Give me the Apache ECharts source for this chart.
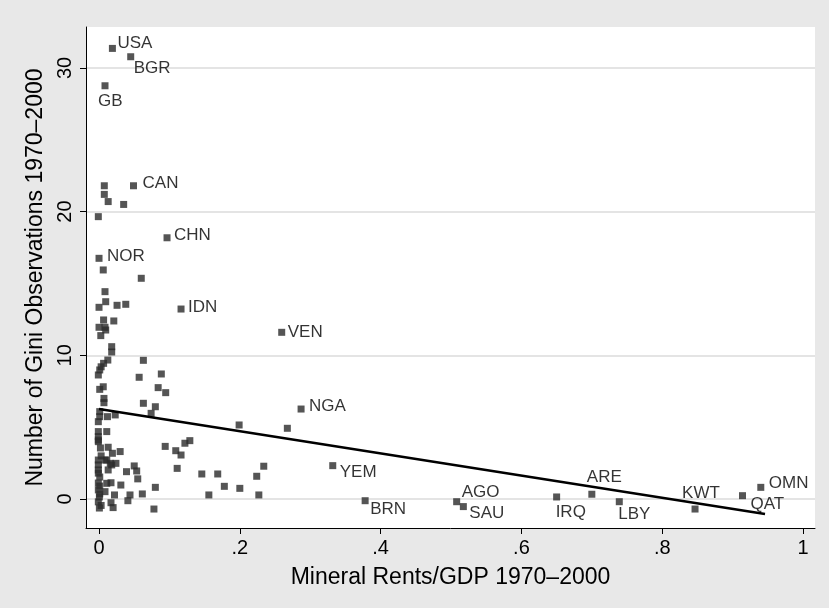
<!DOCTYPE html>
<html>
<head>
<meta charset="utf-8">
<script src="https://cdn.jsdelivr.net/npm/echarts@6/dist/echarts.min.js"></script>
<style>
html,body{margin:0;padding:0;background:#e8e8e8;}
#chart{width:829px;height:608px;}
</style>
</head>
<body>
<div id="chart"></div>
<script>
// Labeled countries
const labeledNames = ['USA','BGR','GB','CAN','CHN','NOR','IDN','VEN','NGA','YEM','BRN','AGO','SAU','IRQ','ARE','LBY','KWT','QAT','OMN'];
const labeledX = [0.019,0.045,0.0085,0.049,0.0966,0.0,0.1165,0.2595,0.287,0.332,0.378,0.508,0.5175,0.65,0.70,0.739,0.8466,0.914,0.94];
const labeledY = [31.36,30.78,28.76,21.8,18.18,16.75,13.22,11.6,6.26,2.32,-0.12,-0.19,-0.53,0.14,0.33,-0.19,-0.7,0.23,0.81];

// Unlabeled countries
const otherX = [0.0075,0.0075,0.013,0.035,-0.001,
  0.006,0.06,0.0085,0.0095,0.0,0.0256,0.038,
  0.0065,0.021,0.0,0.0085,0.0095,0.0025,
  0.018,0.018,
  0.0065,0.0125,0.063,0.003,
  0.001,-0.001,0.057,0.0885,
  0.006,0.001,0.084,0.0947,
  0.007,0.007,0.063,0.08,0.074,
  0.001,0.001,-0.001,0.012,0.023,
  0.199,0.2675,
  -0.001,0.011,-0.001,-0.001,
  0.013,0.019,0.03,0.094,0.109,0.1165,0.122,0.129,
  0.0085,0.011,0.016,0.024,-0.001,-0.001,0.018,0.013,-0.001,
  0.05,0.0535,0.055,0.039,0.111,0.146,0.1686,0.178,0.2,0.156,0.224,0.234,0.227,
  0.017,0.031,0.08,0.0615,0.022,0.017,0.044,0.041,0.02,0.078,
  0.001,-0.001,0.011,0.0085,-0.001,0.0005,-0.001,0.0005,0.002,-0.001,0.003,0.001,0.001,-0.001,0.003];
const otherY = [21.8,21.2,20.7,20.5,19.65,
  15.94,15.36,14.43,13.73,13.34,13.48,13.55,
  12.46,12.39,11.95,11.95,11.76,11.37,
  10.6,10.23,
  9.44,9.67,9.65,9.2,
  8.98,8.63,8.47,8.7,
  7.81,7.63,7.75,7.4,
  7.0,6.7,6.66,6.42,5.96,
  6.08,5.73,5.38,5.73,5.85,
  5.15,4.92,
  4.69,4.69,4.34,3.99,
  3.6,3.18,3.3,3.66,3.36,3.06,3.88,4.06,
  2.71,2.71,2.48,2.48,2.71,2.37,2.37,2.02,2.02,
  2.3,1.95,1.4,1.9,2.13,1.74,1.74,0.88,0.74,0.28,1.58,2.28,0.28,
  1.13,0.97,0.81,0.35,0.28,-0.26,0.28,-0.12,-0.6,-0.7,
  1.53,1.11,1.09,0.51,0.63,0.14,-0.2,-0.63,3.55,4.1,3.0,0.9,0.35,1.8,-0.45];

// Linear fit endpoints
const fitX = [0.0, 0.946];
const fitY = [6.26, -1.04];

const xTicks = [0, 0.2, 0.4, 0.6, 0.8, 1];
const yTicks = [0, 10, 20, 30];
const xTitle = 'Mineral Rents/GDP 1970–2000';
const yTitle = 'Number of Gini Observations 1970–2000';

// label placement (text left-middle relative to marker centre, px)
const labelOffsets = {
  USA:[5,-5], BGR:[3,12], GB:[-7,16], CAN:[9,-2], CHN:[7,-2], NOR:[8,-2], IDN:[7,-2],
  VEN:[6,0], NGA:[8,-3], YEM:[7,7], BRN:[5,9], AGO:[5,-9], SAU:[6,7], IRQ:[-1,15],
  ARE:[-5,-17], LBY:[-1,13], KWT:[-13,-16], QAT:[8,9], OMN:[8,-4]
};

const FONT = 'Liberation Sans, Arial, Helvetica, sans-serif';
const MS = 7;
const markColor = '#2b2b2b';

const chart = echarts.init(document.getElementById('chart'), null, {renderer:'canvas'});

const labeledData = labeledNames.map((n,i)=>{
  const o = labelOffsets[n];
  return {
    name:n, value:[labeledX[i], labeledY[i]],
    label:{show:true, formatter:n, position:[MS/2+o[0], MS/2+o[1]], align:'left', verticalAlign:'middle'}
  };
});
const otherData = otherX.map((x,i)=>[x, otherY[i]]);
const fitData = fitX.map((x,i)=>[x, fitY[i]]);

const fmtX = v => {
  const s = String(+v.toFixed(2));
  return s.startsWith('0.') ? s.slice(1) : s;
};

chart.setOption({
  animation:false,
  backgroundColor:'#e8e8e8',
  grid:{left:86, right:14, top:27, bottom:80, show:true, backgroundColor:'#ffffff', borderWidth:0},
  xAxis:{
    type:'value', min:-0.0185, max:1.017,
    name:xTitle, nameLocation:'middle', nameGap:38,
    nameTextStyle:{fontFamily:FONT, fontSize:23, color:'#000'},
    axisLine:{show:true, onZero:false, lineStyle:{color:'#000', width:1}},
    axisTick:{show:true, customValues:xTicks, length:6, lineStyle:{color:'#000'}},
    axisLabel:{customValues:xTicks, formatter:fmtX, margin:10, fontFamily:FONT, fontSize:20, color:'#000'},
    splitLine:{show:false}
  },
  yAxis:{
    type:'value', min:-2.02, max:32.85,
    name:yTitle, nameLocation:'middle', nameGap:36, nameRotate:90,
    nameTextStyle:{fontFamily:FONT, fontSize:23, color:'#000'},
    axisLine:{show:true, onZero:false, lineStyle:{color:'#000', width:1}},
    axisTick:{show:true, customValues:yTicks, length:6, lineStyle:{color:'#000'}},
    axisLabel:{customValues:yTicks, rotate:90, margin:11, fontFamily:FONT, fontSize:20, color:'#000'},
    splitLine:{show:false}
  },
  series:[
    {
      type:'line', data:[], silent:true, z:0,
      markLine:{
        silent:true, symbol:'none', label:{show:false}, z:0,
        lineStyle:{color:'#e4e4e4', width:2, type:'solid'},
        data: yTicks.map(v=>({yAxis:v}))
      }
    },
    {
      type:'scatter', data:otherData, symbol:'rect', symbolSize:MS, z:3,
      itemStyle:{color:markColor}
    },
    {
      type:'scatter', data:labeledData, symbol:'rect', symbolSize:MS, z:4,
      itemStyle:{color:markColor},
      label:{show:true, fontFamily:FONT, fontSize:17, color:'#000'}
    },
    {
      type:'line', data:fitData, showSymbol:false, symbol:'none',
      lineStyle:{color:'#000', width:2.5}, z:5
    }
  ]
});
</script>
</body>
</html>
